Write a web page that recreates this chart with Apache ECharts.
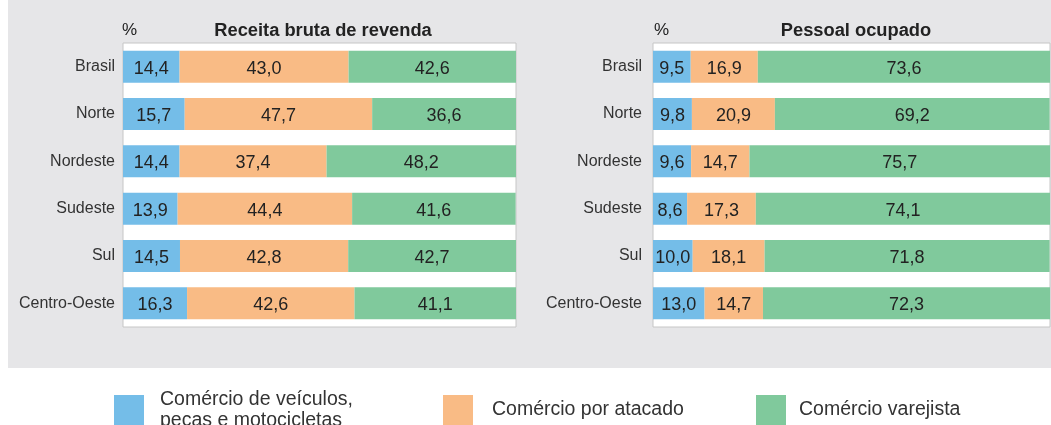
<!DOCTYPE html>
<html>
<head>
<meta charset="utf-8">
<script src="https://cdn.jsdelivr.net/npm/echarts@6/dist/echarts.min.js"></script>
<style>
  html, body { margin: 0; padding: 0; background: #fff; }
  #main { width: 1051px; height: 425px; }
</style>
</head>
<body>
<div id="main"></div>
<script>
const categories = ['Brasil', 'Norte', 'Nordeste', 'Sudeste', 'Sul', 'Centro-Oeste'];
const seriesNames = ['Comércio de veículos,\npeças e motocicletas', 'Comércio por atacado', 'Comércio varejista'];
const colors = ['#74bde8', '#f9bb85', '#80c99c'];

// Receita bruta de revenda (%)
const receitaVeiculos = [14.4, 15.7, 14.4, 13.9, 14.5, 16.3];
const receitaAtacado = [43.0, 47.7, 37.4, 44.4, 42.8, 42.6];
const receitaVarejo = [42.6, 36.6, 48.2, 41.6, 42.7, 41.1];

// Pessoal ocupado (%)
const pessoalVeiculos = [9.5, 9.8, 9.6, 8.6, 10.0, 13.0];
const pessoalAtacado = [16.9, 20.9, 14.7, 17.3, 18.1, 14.7];
const pessoalVarejo = [73.6, 69.2, 75.7, 74.1, 71.8, 72.3];

const chart = echarts.init(document.getElementById('main'));
const font = 'Liberation Sans, Arial, sans-serif';

function bar(name, data, idx, stack, color) {
  return {
    name: name,
    type: 'bar',
    stack: stack,
    xAxisIndex: idx,
    yAxisIndex: idx,
    barWidth: 32,
    data: data,
    itemStyle: { color: color },
    label: {
      show: true,
      position: 'inside',
      offset: [0, 2],
      color: '#222',
      fontFamily: font,
      fontSize: 18,
      formatter: p => p.value.toFixed(1).replace('.', ',')
    },
    emphasis: { disabled: true }
  };
}

function legendAt(name, left, top, gap) {
  return {
    data: [name],
    left: left,
    top: top,
    padding: 0,
    itemWidth: 30,
    itemHeight: 30,
    icon: 'rect',
    selectedMode: false,
    textStyle: {
      fontFamily: font,
      fontSize: 19.5,
      color: '#333',
      lineHeight: 21,
      padding: [0, 0, 0, gap]
    }
  };
}

const catAxis = idx => ({
  type: 'category',
  gridIndex: idx,
  data: categories,
  inverse: true,
  axisLine: { show: false },
  axisTick: { show: false },
  axisLabel: {
    margin: idx === 0 ? 8 : 11,
    color: '#333',
    fontFamily: font,
    fontSize: 16,
    padding: [8, 0, 0, 0]
  }
});

const valAxis = idx => ({
  type: 'value',
  gridIndex: idx,
  min: 0,
  max: 100,
  show: false
});

chart.setOption({
  animation: false,
  graphic: [{
    type: 'rect',
    z: -100,
    shape: { x: 8, y: 0, width: 1043, height: 368 },
    style: { fill: '#e6e6e8' }
  }],
  title: [
    { text: 'Receita bruta de revenda', left: 318, top: 17, textAlign: 'center',
      textStyle: { fontFamily: font, fontSize: 18.3, fontWeight: 'bold', color: '#222' } },
    { text: '%', left: 117, top: 17,
      textStyle: { fontFamily: font, fontSize: 17, fontWeight: 'normal', color: '#222' } },
    { text: 'Pessoal ocupado', left: 851, top: 17, textAlign: 'center',
      textStyle: { fontFamily: font, fontSize: 18.3, fontWeight: 'bold', color: '#222' } },
    { text: '%', left: 649, top: 17,
      textStyle: { fontFamily: font, fontSize: 17, fontWeight: 'normal', color: '#222' } }
  ],
  legend: [
    legendAt(seriesNames[0], 114, 389, 11),
    legendAt(seriesNames[1], 443, 395, 14),
    legendAt(seriesNames[2], 756, 395, 8)
  ],
  grid: [
    { left: 123, right: 535, top: 43, bottom: 98, show: true,
      backgroundColor: '#fff', borderColor: '#c6c6c6', borderWidth: 1 },
    { left: 653, right: 1, top: 43, bottom: 98, show: true,
      backgroundColor: '#fff', borderColor: '#c6c6c6', borderWidth: 1 }
  ],
  xAxis: [valAxis(0), valAxis(1)],
  yAxis: [catAxis(0), catAxis(1)],
  series: [
    bar(seriesNames[0], receitaVeiculos, 0, 'r', colors[0]),
    bar(seriesNames[1], receitaAtacado, 0, 'r', colors[1]),
    bar(seriesNames[2], receitaVarejo, 0, 'r', colors[2]),
    bar(seriesNames[0], pessoalVeiculos, 1, 'p', colors[0]),
    bar(seriesNames[1], pessoalAtacado, 1, 'p', colors[1]),
    bar(seriesNames[2], pessoalVarejo, 1, 'p', colors[2])
  ]
});
</script>
</body>
</html>
